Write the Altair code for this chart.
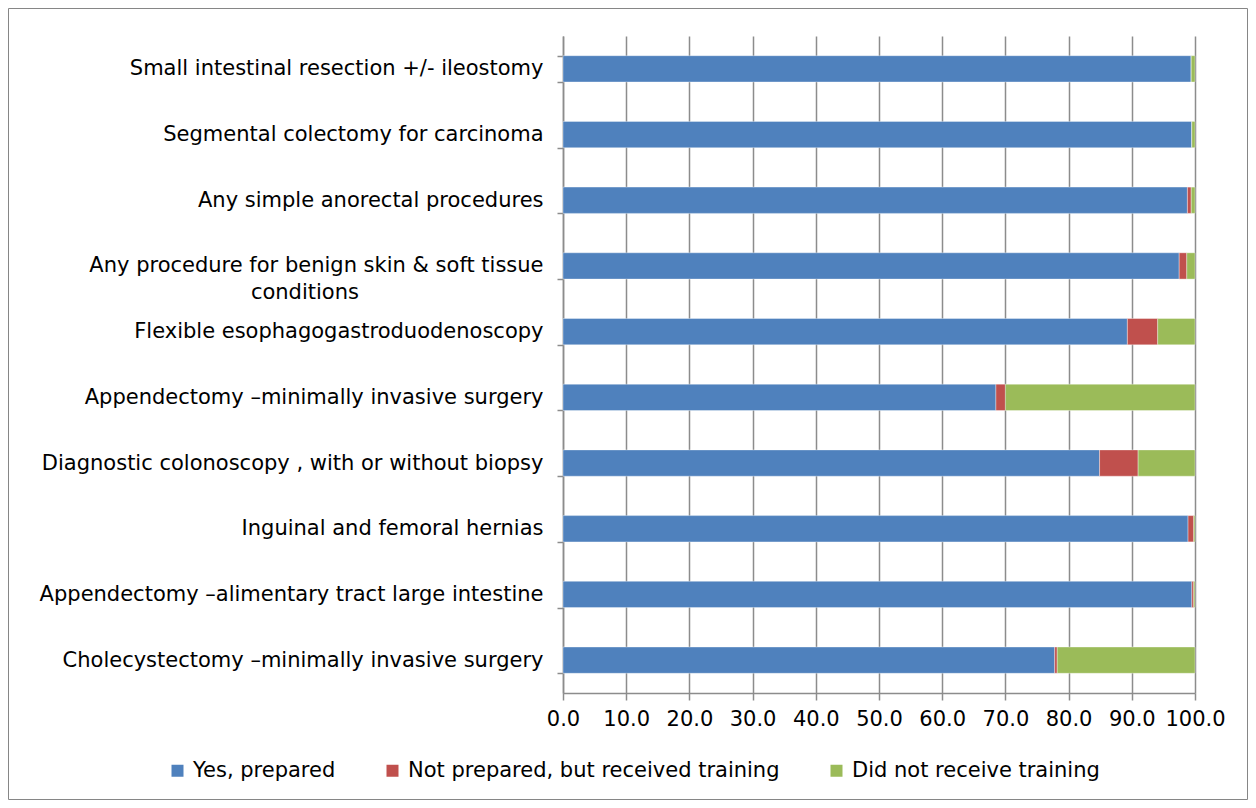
import altair as alt
import pandas as pd

categories = [
    "Small intestinal resection +/- ileostomy",
    "Segmental colectomy for carcinoma",
    "Any simple anorectal procedures",
    "Any procedure for benign skin & soft tissue conditions",
    "Flexible esophagogastroduodenoscopy",
    "Appendectomy \u2013minimally invasive surgery",
    "Diagnostic colonoscopy , with or without biopsy",
    "Inguinal and femoral hernias",
    "Appendectomy \u2013alimentary tract large intestine",
    "Cholecystectomy \u2013minimally invasive surgery",
]
series = ["Yes, prepared", "Not prepared, but received training", "Did not receive training"]
colors = ["#4F81BD", "#C0504D", "#9BBB59"]

yes_prepared = [99.4, 99.5, 98.8, 97.5, 89.3, 68.5, 84.9, 98.9, 99.5, 77.8]
not_prepared_trained = [0.0, 0.0, 0.6, 1.2, 4.8, 1.5, 6.1, 0.9, 0.3, 0.4]
no_training = [0.6, 0.5, 0.6, 1.3, 5.9, 30.0, 9.0, 0.2, 0.2, 21.8]

x_ticks = [0, 10, 20, 30, 40, 50, 60, 70, 80, 90, 100]

rows = []
for i, c in enumerate(categories):
    for j, (s, vals) in enumerate(zip(series, [yes_prepared, not_prepared_trained, no_training])):
        rows.append({"category": c, "series": s, "value": vals[i], "order": j})
df = pd.DataFrame(rows)

FONT = "DejaVu Sans"
FS = 21
pad = "\u2800" * 12
label_expr = (
    "datum.value == 'Any procedure for benign skin & soft tissue conditions' ? "
    "['Any procedure for benign skin & soft tissue', 'conditions" + pad + "'] : datum.value"
)

bars = alt.Chart(df).mark_bar(stroke="#ffffff", strokeWidth=0.6, strokeOpacity=0.6).encode(
    x=alt.X(
        "value:Q",
        stack="zero",
        scale=alt.Scale(domain=[0, 100], nice=False),
        axis=alt.Axis(
            values=x_ticks,
            format=".1f",
            title=None,
            grid=True,
            gridColor="#8c8c8c",
            gridWidth=1.5,
            domainColor="#8c8c8c",
            domainWidth=1.5,
            tickColor="#8c8c8c",
            tickWidth=1.5,
            tickSize=7,
            labelPadding=8,
            labelOverlap=False,
            labelFlush=False,
            labelFont=FONT,
            labelFontSize=FS,
            labelColor="#000000",
        ),
    ),
    y=alt.Y(
        "category:N",
        sort=categories,
        scale=alt.Scale(paddingInner=0.6, paddingOuter=0.3),
        axis=alt.Axis(
            title=None,
            grid=False,
            tickBand="extent",
            domainColor="#8c8c8c",
            domainWidth=1.5,
            tickColor="#8c8c8c",
            tickWidth=1.5,
            tickSize=6,
            labelPadding=14,
            labelFont=FONT,
            labelFontSize=FS,
            labelColor="#000000",
            labelLimit=600,
            labelLineHeight=27,
            labelExpr=label_expr,
        ),
    ),
    color=alt.Color(
        "series:N",
        sort=series,
        scale=alt.Scale(domain=series, range=colors),
        legend=alt.Legend(
            title=None,
            orient="none",
            direction="horizontal",
            legendX=-396,
            legendY=724,
            symbolType="square",
            symbolSize=144,
            symbolStrokeWidth=0,
            labelFont=FONT,
            labelFontSize=FS,
            labelColor="#000000",
            labelOffset=5,
            columnPadding=46,
            labelLimit=600,
        ),
    ),
    order=alt.Order("order:Q"),
)

frame = alt.Chart(alt.Data(values=[{"f": 1}])).mark_rect(
    fill=None, fillOpacity=0, stroke="#868686", strokeWidth=1, clip=False
).encode(
    x=alt.value(-554.5),
    x2=alt.value(684.5),
    y=alt.value(-27.5),
    y2=alt.value(763.5),
)

chart = (
    alt.layer(frame, bars)
    .properties(
        width=632,
        height=657,
        autosize=alt.AutoSizeParams(type="none"),
        padding={"left": 555, "top": 28, "right": 53, "bottom": 107},
        background="#ffffff",
    )
    .configure_view(stroke=None)
)

chart.save("out.html", embed_options={"renderer": "svg", "actions": False})
